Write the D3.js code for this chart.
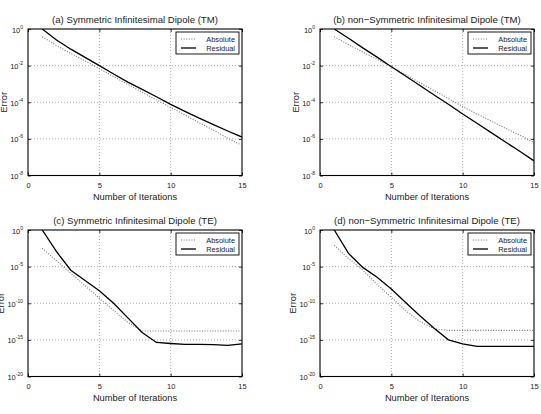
<!DOCTYPE html>
<html>
<head>
<meta charset="utf-8">
<script src="https://cdn.jsdelivr.net/npm/d3@7"></script>
<style>
  body { margin: 0; background: #fff; }
  svg { display: block; font-family: "Liberation Sans", Arial, sans-serif; }
</style>
</head>
<body>
<div id="chart"></div>
<script>
// Values (error per iteration, log scale)
const iterations = [1, 2, 3, 4, 5, 6, 7, 8, 9, 10, 11, 12, 13, 14, 15];

const titles = [
  '(a) Symmetric Infinitesimal Dipole (TM)',
  '(b) non\u2212Symmetric Infinitesimal Dipole (TM)',
  '(c) Symmetric Infinitesimal Dipole (TE)',
  '(d) non\u2212Symmetric Infinitesimal Dipole (TE)',
];

const tmTicks = [0, -2, -4, -6, -8];
const teTicks = [0, -5, -10, -15, -20];
const xTicks = [0, 5, 10, 15];
const legendLabels = ['Absolute', 'Residual'];

const absoluteA = [3.8e-1, 1.26e-1, 4.7e-2, 1.8e-2, 6.8e-3, 2.5e-3, 9.5e-4, 3.5e-4, 1.35e-4, 5.2e-5, 2.0e-5, 7.6e-6, 3.0e-6, 1.1e-6, 4.4e-7];
const residualA = [1, 2.5e-1, 7.9e-2, 2.8e-2, 1.0e-2, 3.5e-3, 1.26e-3, 5.0e-4, 2.0e-4, 7.6e-5, 3.2e-5, 1.35e-5, 6.0e-6, 2.7e-6, 1.26e-6];

const absoluteB = [3.8e-1, 1.4e-1, 5.5e-2, 2.2e-2, 8.9e-3, 3.2e-3, 1.17e-3, 4.3e-4, 1.6e-4, 5.8e-5, 2.3e-5, 9.3e-6, 3.8e-6, 1.6e-6, 6.3e-7];
const residualB = [1, 3.1e-1, 9.3e-2, 2.9e-2, 8.7e-3, 2.7e-3, 8.3e-4, 2.5e-4, 7.8e-5, 2.3e-5, 7.2e-6, 2.2e-6, 6.8e-7, 2.1e-7, 6.3e-8];

const absoluteC = [3.2e-3, 6.3e-5, 1.26e-6, 2.5e-8, 5.0e-10, 1e-11, 2.5e-13, 1.6e-14, 1.6e-14, 1.6e-14, 1.6e-14, 1.6e-14, 1.6e-14, 1.6e-14, 1.6e-14];
const residualC = [1, 1.1e-3, 3.2e-6, 1.26e-7, 5.0e-9, 1e-10, 1e-12, 1e-14, 4.4e-16, 3.2e-16, 2.5e-16, 2.5e-16, 2.2e-16, 1.8e-16, 2.8e-16];

const absoluteD = [7.9e-3, 1.26e-4, 3.2e-6, 4.0e-8, 6.3e-10, 1e-11, 3.2e-13, 3.2e-14, 2.0e-14, 2.0e-14, 2.0e-14, 2.0e-14, 2.0e-14, 2.0e-14, 2.0e-14];
const residualD = [1, 6.3e-4, 7.9e-6, 3.5e-7, 8.9e-9, 1.26e-10, 2.0e-12, 4.0e-14, 1e-15, 2.8e-16, 1.26e-16, 1.26e-16, 1.26e-16, 1.26e-16, 1.26e-16];

const panels = [
  { title: titles[0], ticks: tmTicks, abs: absoluteA, res: residualA, left: 28, top: 29, labelX: -21 },
  { title: titles[1], ticks: tmTicks, abs: absoluteB, res: residualB, left: 320, top: 29, labelX: -21 },
  { title: titles[2], ticks: teTicks, abs: absoluteC, res: residualC, left: 28, top: 230, labelX: -24 },
  { title: titles[3], ticks: teTicks, abs: absoluteD, res: residualD, left: 320, top: 230, labelX: -24 },
];

const W = 541, H = 414;
const pw = 214, ph = 146.5;

const svg = d3.select('#chart').append('svg')
  .attr('width', W).attr('height', H);

panels.forEach((p, i) => {
  const g = svg.append('g').attr('transform', `translate(${p.left},${p.top})`);

  const x = d3.scaleLinear().domain([0, 15]).range([0, pw]);
  const y = d3.scaleLog()
    .domain([Math.pow(10, d3.min(p.ticks)), Math.pow(10, d3.max(p.ticks))])
    .range([ph, 0]);

  g.append('clipPath').attr('id', 'clip' + i)
    .append('rect').attr('width', pw).attr('height', ph);

  // grid
  g.append('g')
    .attr('stroke', '#999')
    .attr('stroke-width', 0.8)
    .attr('stroke-dasharray', '1,2')
    .call(gg => {
      gg.selectAll('.gx').data(xTicks.slice(1, -1)).join('line')
        .attr('x1', d => x(d)).attr('x2', d => x(d))
        .attr('y1', 0).attr('y2', ph);
      gg.selectAll('.gy').data(p.ticks.slice(1, -1)).join('line')
        .attr('class', 'gy')
        .attr('x1', 0).attr('x2', pw)
        .attr('y1', d => y(Math.pow(10, d))).attr('y2', d => y(Math.pow(10, d)));
    });

  // x axis (ticks inward, bottom and top)
  const xAxis = g.append('g').attr('transform', `translate(0,${ph})`)
    .call(d3.axisBottom(x).tickValues(xTicks).tickSize(-3).tickPadding(7));
  g.append('g')
    .call(d3.axisTop(x).tickValues(xTicks).tickSize(-3).tickFormat(''));
  xAxis.selectAll('text').attr('font-size', 7.5).attr('fill', '#222');

  // y axis
  const yAxis = g.append('g')
    .call(d3.axisLeft(y).tickValues(p.ticks.map(t => Math.pow(10, t))).tickSize(-3).tickFormat(''));
  g.append('g').attr('transform', `translate(${pw},0)`)
    .call(d3.axisRight(y).tickValues(p.ticks.map(t => Math.pow(10, t))).tickSize(-3).tickFormat(''));
  yAxis.selectAll('.tick').each(function(d) {
    const e = Math.round(Math.log10(d));
    const t = d3.select(this).append('text')
      .attr('x', -5).attr('y', 3)
      .attr('text-anchor', 'end')
      .attr('fill', '#222')
      .attr('font-size', 7.5);
    t.append('tspan').text('10');
    t.append('tspan').attr('dy', -4).attr('font-size', 5).text(e === 0 ? '0' : '-' + Math.abs(e));
  });

  g.selectAll('.domain').remove();
  g.selectAll('.tick line').attr('stroke', '#000').attr('stroke-width', 0.8);

  // box
  g.append('rect').attr('width', pw).attr('height', ph)
    .attr('fill', 'none').attr('stroke', '#000').attr('stroke-width', 1.1);

  // curves
  const line = d3.line().x(d => x(d[0])).y(d => y(d[1]));
  const plot = g.append('g').attr('clip-path', `url(#clip${i})`);
  plot.append('path')
    .datum(iterations.map((it, k) => [it, p.abs[k]]))
    .attr('d', line).attr('fill', 'none')
    .attr('stroke', '#777').attr('stroke-width', 1.1)
    .attr('stroke-dasharray', '1,1.6');
  plot.append('path')
    .datum(iterations.map((it, k) => [it, p.res[k]]))
    .attr('d', line).attr('fill', 'none')
    .attr('stroke', '#000').attr('stroke-width', 1.3);

  // labels
  g.append('text')
    .attr('x', pw / 2).attr('y', -6)
    .attr('text-anchor', 'middle')
    .attr('font-size', 9.6)
    .attr('fill', '#222')
    .text(p.title);
  g.append('text')
    .attr('x', pw / 2).attr('y', ph + 24)
    .attr('text-anchor', 'middle')
    .attr('font-size', 9.3)
    .attr('fill', '#222')
    .text('Number of Iterations');
  g.append('text')
    .attr('transform', `translate(${p.labelX},${ph / 2}) rotate(-90)`)
    .attr('text-anchor', 'middle')
    .attr('font-size', 9.3)
    .attr('fill', '#222')
    .text('Error');

  // legend
  const lg = g.append('g').attr('transform', `translate(${pw - 66},3)`);
  lg.append('rect').attr('width', 63).attr('height', 22)
    .attr('fill', '#fff').attr('stroke', '#000').attr('stroke-width', 0.9);
  legendLabels.forEach((lab, k) => {
    const ly = 7 + k * 9;
    lg.append('line')
      .attr('x1', 5).attr('x2', 20).attr('y1', ly).attr('y2', ly)
      .attr('stroke', k === 0 ? '#777' : '#000')
      .attr('stroke-width', k === 0 ? 1.1 : 1.3)
      .attr('stroke-dasharray', k === 0 ? '1,1.6' : null);
    lg.append('text')
      .attr('x', 59).attr('y', ly + 2.6)
      .attr('text-anchor', 'end')
      .attr('font-size', 7.4)
      .attr('fill', '#222')
      .text(lab);
  });
});
</script>
</body>
</html>
